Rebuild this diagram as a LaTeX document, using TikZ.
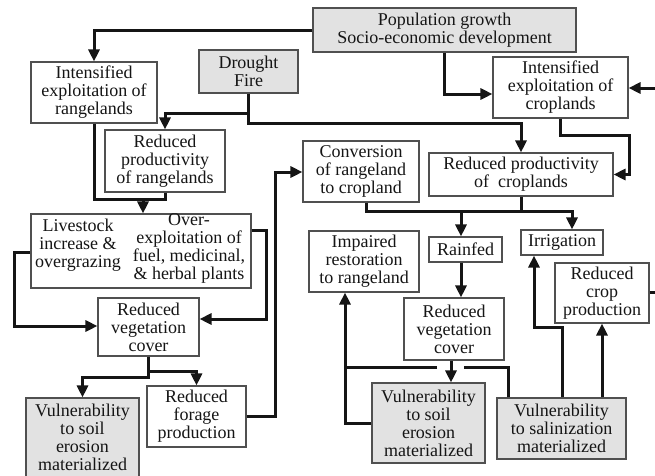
\documentclass[tikz,border=0pt]{standalone}
\usepackage{fontspec}
\setmainfont{Liberation Serif}
\usetikzlibrary{arrows.meta}
\definecolor{boxgray}{HTML}{E2E2E2}
\definecolor{edgegray}{HTML}{505050}
\definecolor{ink}{HTML}{151515}
\tikzset{
  lbl/.style={inner sep=0pt, align=center, text=ink, font=\fontsize{18}{18}\selectfont},
  box/.style={lbl, draw=edgegray, line width=1.1pt, fill=white},
  gbox/.style={box, fill=boxgray},
  plain/.style={draw=ink, line width=3pt},
  link/.style={plain, -{Triangle[length=12pt,width=11pt]}},
}
\begin{document}
\begin{tikzpicture}[x=1pt,y=-1pt]
\useasboundingbox (0,0) rectangle (655,475);

% drivers
\node[gbox, minimum width=263pt, minimum height=44pt] (pop) at (444.5,30) {Population growth\\Socio-economic development};
\node[gbox, minimum width=99pt, minimum height=43pt] (drought) at (248.5,71.5) {Drought\\Fire};

% rangeland chain
\node[box, minimum width=126pt, minimum height=61pt] (intr) at (94,92.5) {Intensified\\exploitation of\\rangelands};
\node[box, minimum width=120pt, minimum height=62pt] (rpr) at (165,161) {Reduced\\productivity\\of rangelands};
\node[box, minimum width=220pt, minimum height=74pt] (lvs) at (141,251) {};
\node[lbl] (lvsL) at (78,245) {Livestock\\increase \&\\overgrazing};
\node[lbl] (lvsR) at (189,248.5) {Over-\\exploitation of\\fuel, medicinal,\\\& herbal plants};
\node[box, minimum width=101pt, minimum height=58pt] (rvl) at (148.5,327) {Reduced\\vegetation\\cover};
\node[gbox, minimum width=113pt, minimum height=79pt] (vsl) at (82.5,437.5) {Vulnerability\\to soil\\erosion\\materialized};
\node[box, minimum width=99pt, minimum height=61pt] (forage) at (196.5,416.5) {Reduced\\forage\\production};

% cropland chain
\node[box, minimum width=116pt, minimum height=61pt] (conv) at (361,171.5) {Conversion\\of rangeland\\to cropland};
\node[box, minimum width=135pt, minimum height=61pt] (intc) at (560.5,87.5) {Intensified\\exploitation of\\croplands};
\node[box, minimum width=184pt, minimum height=43pt] (rpc) at (521,174.5) {Reduced productivity\\of\ \ croplands};
\node[box, minimum width=110pt, minimum height=61pt] (imp) at (364,261.5) {Impaired\\restoration\\to rangeland};
\node[box, minimum width=73pt, minimum height=25pt] (rain) at (465.5,249.5) {Rainfed};
\node[box, minimum width=82pt, minimum height=25pt] (irr) at (562,242.5) {Irrigation};
\node[box, minimum width=94pt, minimum height=60pt] (rcp) at (602,293) {Reduced\\crop\\production};
\node[box, minimum width=100pt, minimum height=62pt] (rvr) at (454,329) {Reduced\\vegetation\\cover};
\node[gbox, minimum width=113pt, minimum height=80pt] (vsr) at (428.5,423) {Vulnerability\\to soil\\erosion\\materialized};
\node[gbox, minimum width=129pt, minimum height=61pt] (vsal) at (561.5,428.5) {Vulnerability\\to salinization\\materialized};

% junctions and loose ends
\coordinate (dj) at (248.5,113);
\coordinate (rj) at (143,199);
\coordinate (vj) at (148.5,371);
\coordinate (cj) at (461,211);
\coordinate (inR) at (655,88);
\coordinate (outR) at (655,292);

% top drivers
\draw[link] (pop.west) -| (intr.north);
\draw[link] (pop.south) |- (intc.west |- 0,94);
\draw[link] (inR) -- (intc.east |- inR);
\draw[link] (intc.south) |- (629,135) |- (rpc.east);
\draw[link] (drought.south) |- (521,123) -- (rpc.north);
\draw[link] (dj) -| (rpr.north);

% rangeland side
\draw[link] (intr.south) |- (rj) -- (rj |- lvs.north);
\draw[plain] (rpr.south) |- (rj);
\draw[link] (lvs.west |- 0,252) -- (14,252) |- (rvl.west |- 0,326);
\draw[link] (lvs.east |- 0,230) -- (266,230) |- (rvl.east |- 0,319);
\draw[link] (rvl.south) |- (82.5,377) -- (vsl.north);
\draw[link] (vj) -| (forage.north);
\draw[link] (forage.east |- 0,416) -- (275,416) |- (conv.west |- 0,172);

% cropland side
\draw[link] (366,0 |- conv.south) |- (572,211) -- (572,0 |- irr.north);
\draw[plain] (rpc.south) -- (rpc.south |- cj);
\draw[link] (cj) -- (cj |- rain.north);
\draw[link] (461,0 |- rain.south) -- (461,0 |- rvr.north);
\draw[link] (451,0 |- rvr.south) -- (451,0 |- vsr.north);
\draw[link] (vsr.west |- 0,423) -- (345,423) -- (345,0 |- imp.south);
\draw[plain] (508,0 |- vsal.north) |- (464,367);
\draw[plain] (437,367) -- (345,367);
\draw[link] (562,0 |- vsal.north) |- (534,327) -- (534,0 |- irr.south);
\draw[link] (602,0 |- vsal.north) -- (rcp.south);
\draw[plain] (rcp.east |- outR) -- (outR);
\end{tikzpicture}
\end{document}
